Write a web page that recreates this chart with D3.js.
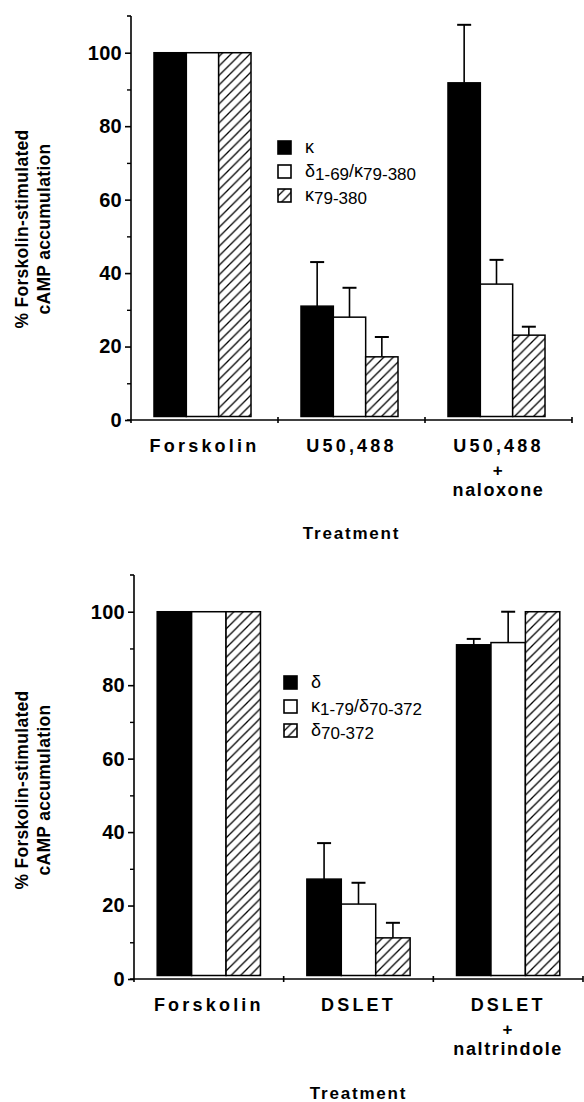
<!DOCTYPE html>
<html>
<head>
<meta charset="utf-8">
<script src="https://cdn.jsdelivr.net/npm/d3@7"></script>
<style>
  html, body { margin: 0; padding: 0; background: #fff; }
  svg { display: block; }
  text { font-family: "Liberation Sans", Arial, Helvetica, sans-serif; fill: #000; }
</style>
</head>
<body>
<svg id="chart" width="584" height="1102"></svg>
<script>
// ---------------- DATA ----------------
const yTicks = [0, 20, 40, 60, 80, 100];
const yMinorTicks = [10, 30, 50, 70, 90];
const yAxisTitle = ["% Forskolin-stimulated", "cAMP accumulation"];
const xAxisTitle = "Treatment";

// Panel A (kappa)
const topCategories = [["Forskolin"], ["U50,488"], ["U50,488", "+", "naloxone"]];
const topSeriesLabels = [
  [["κ", false]],
  [["δ", false], ["1-69", true], ["/κ", false], ["79-380", true]],
  [["κ", false], ["79-380", true]]
];
const topKappa       = [100, 31.0, 91.8];
const topKappaErr    = [0, 12.0, 15.8];
const topChimera     = [100, 28.0, 37.0];
const topChimeraErr  = [0, 8.0, 6.6];
const topTrunc       = [100, 17.2, 23.1];
const topTruncErr    = [0, 5.4, 2.3];

// Panel B (delta)
const botCategories = [["Forskolin"], ["DSLET"], ["DSLET", "+", "naltrindole"]];
const botSeriesLabels = [
  [["δ", false]],
  [["κ", false], ["1-79", true], ["/δ", false], ["70-372", true]],
  [["δ", false], ["70-372", true]]
];
const botDelta       = [100, 27.2, 91.0];
const botDeltaErr    = [0, 9.8, 1.6];
const botChimera     = [100, 20.4, 91.6];
const botChimeraErr  = [0, 5.8, 8.4];
const botTrunc       = [100, 11.2, 100];
const botTruncErr    = [0, 4.1, 0];

// ---------------- DRAW ----------------
const svg = d3.select("#chart");
const defs = svg.append("defs");
defs.append("pattern")
  .attr("id", "hatch")
  .attr("patternUnits", "userSpaceOnUse")
  .attr("width", 9.5).attr("height", 9.5)
  .call(p => {
    p.append("rect").attr("width", 9.5).attr("height", 9.5).attr("fill", "#fff");
    p.append("path")
      .attr("d", "M-1,10.5 L10.5,-1 M-3,3 L3,-3 M6.5,12.5 L12.5,6.5")
      .attr("stroke", "#000").attr("stroke-width", 1.3);
  });

const fills = ["#000", "#fff", "url(#hatch)"];

function drawPanel(cfg) {
  const g = svg.append("g");
  const y = d3.scaleLinear().domain([0, 110]).range([cfg.y0, cfg.y110]);
  const x = d3.scaleBand().domain(d3.range(cfg.categories.length))
    .range([cfg.xLeft, cfg.xRight]).paddingInner(0).paddingOuter(0);
  const xs = d3.scaleBand().domain(d3.range(3))
    .range([0, x.bandwidth()]).paddingOuter((1 - cfg.groupFrac) / cfg.groupFrac * 1.5).paddingInner(0);

  const series = [
    { v: cfg.s0, e: cfg.e0 },
    { v: cfg.s1, e: cfg.e1 },
    { v: cfg.s2, e: cfg.e2 }
  ];

  // bars
  series.forEach((s, si) => {
    g.selectAll(null).data(s.v).enter().append("rect")
      .attr("x", (d, i) => x(i) + xs(si) + cfg.groupShift)
      .attr("width", xs.bandwidth())
      .attr("y", d => y(d))
      .attr("height", d => y(0) - y(d) - 3.5)
      .attr("fill", fills[si])
      .attr("stroke", "#000")
      .attr("stroke-width", 1.5);
  });
  // error bars
  series.forEach((s, si) => {
    const data = s.v.map((v, i) => ({ v, e: s.e[i], i })).filter(d => d.e > 0);
    const cx = d => x(d.i) + xs(si) + cfg.groupShift + xs.bandwidth() / 2;
    g.selectAll(null).data(data).enter().append("line")
      .attr("x1", cx).attr("x2", cx)
      .attr("y1", d => y(d.v)).attr("y2", d => y(d.v + d.e))
      .attr("stroke", "#000").attr("stroke-width", 1.6);
    g.selectAll(null).data(data).enter().append("line")
      .attr("x1", d => cx(d) - 7).attr("x2", d => cx(d) + 7)
      .attr("y1", d => y(d.v + d.e)).attr("y2", d => y(d.v + d.e))
      .attr("stroke", "#000").attr("stroke-width", 2);
  });

  // y axis
  const yAxis = g.append("g").attr("transform", `translate(${cfg.xLeft},0)`)
    .call(d3.axisLeft(y).tickValues(yTicks).tickSize(6).tickSizeOuter(0).tickPadding(3));
  yAxis.select(".domain").attr("stroke-width", 1.6).attr("d", `M0,${y(0)}V${y(110)}`);
  yAxis.selectAll(".tick line").attr("stroke-width", 1.6);
  yAxis.selectAll(".tick text")
    .style("font-family", "'Liberation Sans', Arial, sans-serif")
    .style("font-weight", "bold").style("font-size", "20px")
    .style("letter-spacing", "0.3px");
  const yMinor = g.append("g").attr("transform", `translate(${cfg.xLeft},0)`)
    .call(d3.axisLeft(y).tickValues(yMinorTicks).tickSize(4).tickSizeOuter(0).tickFormat(""));
  yMinor.select(".domain").remove();
  yMinor.selectAll(".tick line").attr("stroke-width", 1.4);
  g.append("line").attr("x1", cfg.xLeft - 4).attr("x2", cfg.xLeft)
    .attr("y1", y(110)).attr("y2", y(110)).attr("stroke", "#000").attr("stroke-width", 1.6);

  // x axis
  const xAxis = g.append("g").attr("transform", `translate(0,${y(0)})`)
    .call(d3.axisBottom(x).tickSize(0).tickSizeOuter(0).tickPadding(0).tickFormat(""));
  xAxis.select(".domain").attr("stroke-width", 1.6)
    .attr("d", `M${cfg.xLeft - 4},0H${cfg.xRight}`);
  const bounds = d3.range(1, cfg.categories.length + 1).map(i => x(i - 1) + x.bandwidth());
  xAxis.selectAll(".btick").data(bounds).enter().append("line")
    .attr("x1", d => d).attr("x2", d => d).attr("y1", -3).attr("y2", 3)
    .attr("stroke", "#000").attr("stroke-width", 1.6);
  g.append("line").attr("x1", cfg.xLeft).attr("x2", cfg.xLeft)
    .attr("y1", y(0)).attr("y2", y(0) + 3).attr("stroke", "#000").attr("stroke-width", 1.6);

  // category labels
  xAxis.selectAll(".tick").each(function (d) {
    const t = d3.select(this);
    t.select("text").remove();
    const lines = cfg.categories[d];
    lines.forEach((ln, li) => {
      t.append("text")
        .attr("x", cfg.labelShift).attr("y", cfg.labelDy[li])
        .attr("text-anchor", "middle")
        .style("font-weight", "bold")
        .style("font-size", li === 1 ? "17px" : "18px")
        .style("letter-spacing", li === 0 ? "3.2px" : "1.6px")
        .text(ln);
    });
  });

  // x axis title
  g.append("text")
    .attr("x", x(1) + x.bandwidth() / 2).attr("y", cfg.xTitleY)
    .attr("text-anchor", "middle")
    .style("font-weight", "bold").style("font-size", "17px").style("letter-spacing", "1.8px")
    .text(xAxisTitle);

  // y axis title
  const cy = cfg.yTitleCenter;
  yAxisTitle.forEach((t, i) => {
    g.append("text")
      .attr("transform", `translate(${cfg.yTitleX[i]},${cy}) rotate(-90)`)
      .attr("text-anchor", "middle")
      .style("font-weight", "bold").style("font-size", "17.5px")
      .style("letter-spacing", "0.3px")
      .text(t);
  });

  // legend
  const lg = g.append("g").attr("transform", `translate(${cfg.legendX},${cfg.legendY})`);
  cfg.labels.forEach((parts, i) => {
    const row = lg.append("g").attr("transform", `translate(0,${i * 24})`);
    row.append("rect").attr("x", 0).attr("y", -7).attr("width", 13).attr("height", 13)
      .attr("fill", fills[i]).attr("stroke", "#000").attr("stroke-width", 1.6);
    const tx = row.append("text").attr("x", 27).attr("y", 5)
      .style("font-size", "18px");
    parts.forEach(([s, sub]) => {
      tx.append("tspan")
        .attr("baseline-shift", sub ? "-3" : null)
        .style("font-size", sub ? "17px" : "18px")
        .text(s);
    });
  });
}

drawPanel({
  categories: topCategories, labels: topSeriesLabels,
  s0: topKappa, e0: topKappaErr, s1: topChimera, e1: topChimeraErr, s2: topTrunc, e2: topTruncErr,
  y0: 420, y110: 16, xLeft: 131, xRight: 572, groupFrac: 0.66, groupShift: -2,
  labelShift: 0, labelDy: [32, 56, 76], xTitleY: 539,
  yTitleX: [28, 50], yTitleCenter: 229,
  legendX: 278, legendY: 148
});

drawPanel({
  categories: botCategories, labels: botSeriesLabels,
  s0: botDelta, e0: botDeltaErr, s1: botChimera, e1: botChimeraErr, s2: botTrunc, e2: botTruncErr,
  y0: 979, y110: 575, xLeft: 134, xRight: 583, groupFrac: 0.69, groupShift: 0,
  labelShift: 0, labelDy: [32, 56, 76], xTitleY: 1099,
  yTitleX: [28, 50], yTitleCenter: 790,
  legendX: 284, legendY: 683
});
</script>
</body>
</html>
